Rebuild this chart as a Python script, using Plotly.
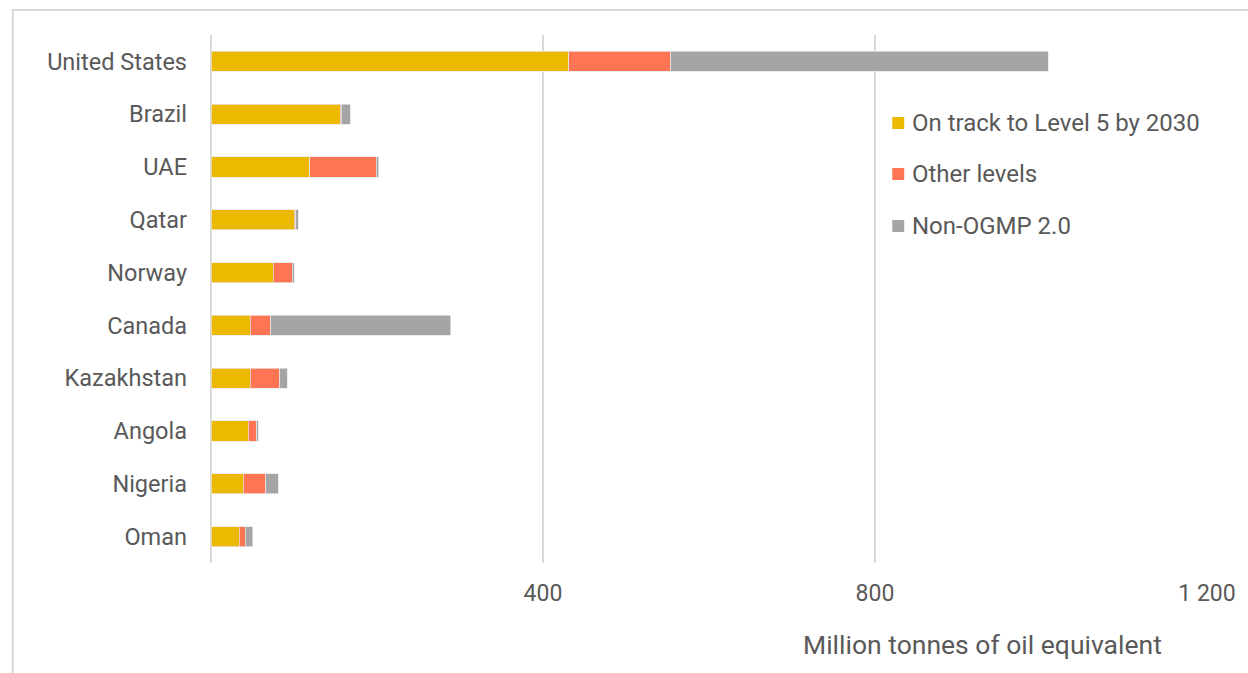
import plotly.graph_objects as go

countries = ["United States", "Brazil", "UAE", "Qatar", "Norway", "Canada",
             "Kazakhstan", "Angola", "Nigeria", "Oman"]
on_track = [431, 156, 119, 100, 75, 47, 47, 45, 39, 34]
other_levels = [123, 1, 80, 2, 23, 25, 36, 10, 27, 7]
non_ogmp = [455, 11, 3, 3, 2, 217, 9, 2, 15, 9]

series_names = ["On track to Level 5 by 2030", "Other levels", "Non-OGMP 2.0"]
series_vals = [on_track, other_levels, non_ogmp]
colors = ["#EDB800", "#FF7452", "#A5A5A5"]

tick_vals = [400, 800, 1200]
tick_text = ["400", "800", "1 200"]

FONT = "Roboto, 'Open Sans', Arial, sans-serif"
TXT = "#595959"

# plot area geometry in pixels (for paper-coordinate conversions)
L, R, T, B = 211, 37, 35, 110
W, H = 1248, 673
PW, PH = W - L - R, H - T - B


def px(xp):
    return (xp - L) / PW


def py(yp):
    return (H - B - yp) / PH


fig = go.Figure()
for name, vals, col in zip(series_names, series_vals, colors):
    fig.add_trace(go.Bar(
        y=countries, x=vals, name=name, orientation="h",
        marker=dict(color=col, line=dict(color="rgba(230,230,230,0.9)", width=0.8)),
        showlegend=False,
    ))

shapes = [dict(
    type="rect", xref="paper", yref="paper",
    x0=px(12), x1=px(1400), y0=py(800), y1=py(10),
    line=dict(color="#D9D9D9", width=2), fillcolor="rgba(0,0,0,0)", layer="below",
)]
annotations = [dict(
    text="Million tonnes of oil equivalent", xref="paper", yref="paper",
    x=px(1168), y=py(644), xanchor="right", yanchor="middle", showarrow=False,
    font=dict(family=FONT, size=26.5, color=TXT),
)]

legend_y = [123, 174, 226]
for name, col, ly in zip(series_names, colors, legend_y):
    shapes.append(dict(
        type="rect", xref="paper", yref="paper",
        x0=px(895), x1=px(907), y0=py(ly + 6), y1=py(ly - 6),
        fillcolor=col, line=dict(width=0),
    ))
    annotations.append(dict(
        text=name, xref="paper", yref="paper", x=px(913), y=py(ly),
        xanchor="left", yanchor="middle", showarrow=False,
        font=dict(family=FONT, size=24, color=TXT),
    ))

fig.update_layout(
    barmode="stack",
    bargap=0.62,
    width=W, height=H,
    margin=dict(l=L, r=R, t=T, b=B),
    plot_bgcolor="white", paper_bgcolor="white",
    font=dict(family=FONT, size=23, color=TXT),
    showlegend=False,
    xaxis=dict(
        range=[0, 1200], tickvals=tick_vals, ticktext=tick_text,
        showgrid=True, gridcolor="#D9D9D9", gridwidth=2,
        zeroline=True, zerolinecolor="#D9D9D9", zerolinewidth=2,
        showline=False, ticks="", ticklabelstandoff=14,
        tickfont=dict(family=FONT, size=23, color=TXT),
    ),
    yaxis=dict(
        autorange="reversed", showgrid=False, zeroline=False, showline=False,
        ticks="", ticklabelstandoff=23,
        tickfont=dict(family=FONT, size=23.5, color=TXT),
    ),
    annotations=annotations,
    shapes=shapes,
)

fig.write_html("out.html")
